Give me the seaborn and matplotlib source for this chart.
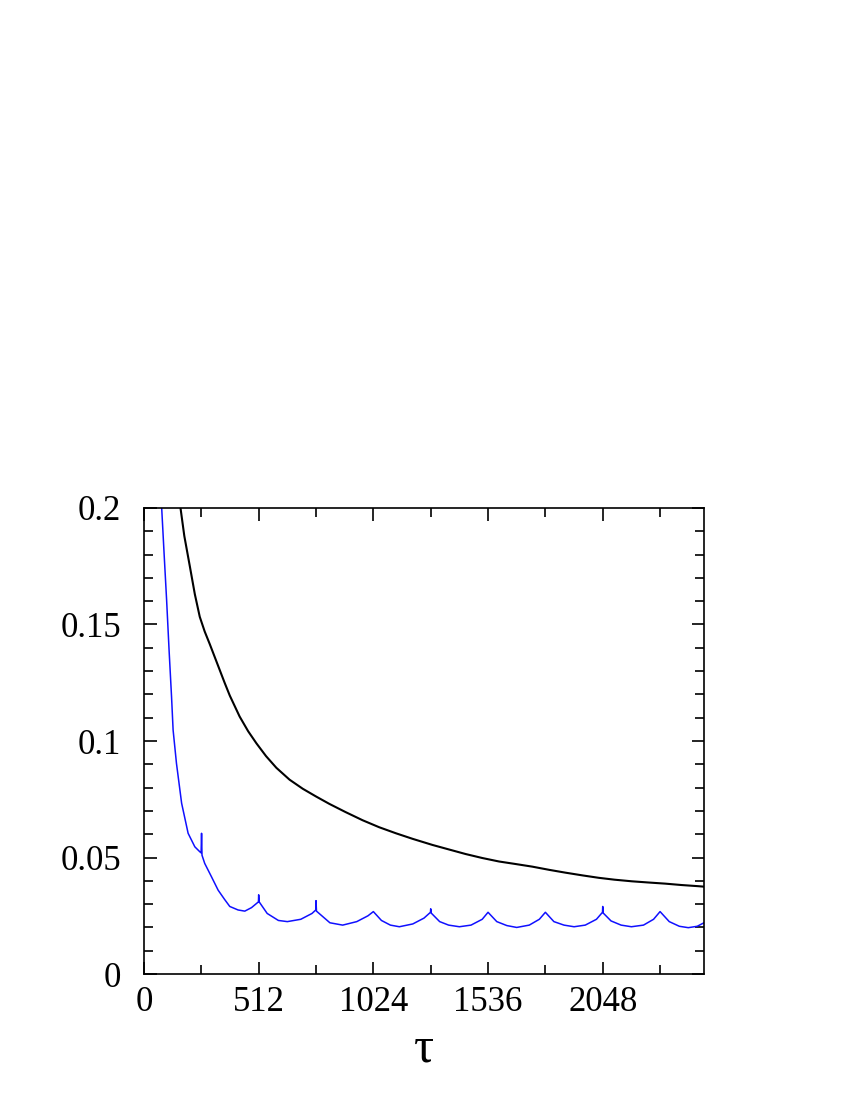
import matplotlib
matplotlib.use('Agg')
import matplotlib.pyplot as plt
import seaborn as sns
import pandas as pd
from matplotlib.ticker import MultipleLocator

# black curve
tau_black = [163, 180, 205, 227, 249, 271, 294, 316, 338, 360, 383, 427, 465, 502, 545, 591,
             650, 709, 768, 828, 900, 976, 1050, 1125, 1200, 1288, 1360, 1436, 1510, 1585,
             1660, 1733, 1810, 1882, 1960, 2030, 2100, 2178, 2250, 2327, 2400, 2475, 2500]
val_black = [0.200, 0.188, 0.1748, 0.163, 0.1533, 0.147, 0.1415, 0.136, 0.1305, 0.125, 0.1195,
             0.1105, 0.1042, 0.0990, 0.0935, 0.0885, 0.0834, 0.0795, 0.0762, 0.0730, 0.0695,
             0.066, 0.063, 0.0604, 0.058, 0.0554, 0.0535, 0.0515, 0.0498, 0.0483, 0.0472,
             0.0461, 0.0447, 0.0435, 0.0423, 0.0413, 0.0405, 0.0398, 0.0393, 0.0388, 0.0382,
             0.0377, 0.0375]

# blue curve
tau_blue = [79, 90, 101, 112, 123, 130, 145, 168, 197, 227, 249, 255, 257, 259, 271, 301, 331,
            360, 383, 420, 450, 480, 505, 511, 512, 514, 550, 600, 640, 700, 750, 767, 768,
            770, 800, 830, 887, 950, 1000, 1024, 1060, 1100, 1140, 1200, 1250, 1279, 1280,
            1282, 1320, 1360, 1408, 1460, 1510, 1536, 1575, 1620, 1664, 1720, 1765, 1792,
            1830, 1875, 1920, 1970, 2020, 2047, 2048, 2050, 2085, 2130, 2176, 2230, 2275,
            2304, 2345, 2390, 2430, 2470, 2500]
val_blue = [0.200, 0.180, 0.1605, 0.139, 0.119, 0.1047, 0.0904, 0.0733, 0.0604, 0.0546, 0.0525,
            0.052, 0.0604, 0.051, 0.0475, 0.0418, 0.036, 0.032, 0.029, 0.0275, 0.027, 0.0285,
            0.0305, 0.031, 0.034, 0.031, 0.026, 0.023, 0.0225, 0.0235, 0.026, 0.0275, 0.0315,
            0.027, 0.0245, 0.022, 0.021, 0.0225, 0.025, 0.0268, 0.023, 0.021, 0.0203, 0.0215,
            0.024, 0.0265, 0.028, 0.0262, 0.0225, 0.021, 0.0203, 0.021, 0.0235, 0.0265,
            0.0225, 0.0208, 0.020, 0.021, 0.0235, 0.0265, 0.0225, 0.021, 0.0203, 0.021,
            0.0235, 0.0265, 0.029, 0.0262, 0.0228, 0.021, 0.0203, 0.021, 0.0235, 0.0268,
            0.0225, 0.0205, 0.0199, 0.0205, 0.022]

x_ticks = [0, 512, 1024, 1536, 2048]
y_ticks = [0, 0.05, 0.1, 0.15, 0.2]
y_labels = ['0', '0.05', '0.1', '0.15', '0.2']

sns.set_style('ticks')
plt.rcParams['font.family'] = ['Liberation Serif', 'DejaVu Serif']
plt.rcParams['text.color'] = 'black'
plt.rcParams['axes.labelcolor'] = 'black'
plt.rcParams['axes.edgecolor'] = 'black'
plt.rcParams['xtick.color'] = 'black'
plt.rcParams['ytick.color'] = 'black'

df_black = pd.DataFrame({'tau': tau_black, 'val': val_black})
df_blue = pd.DataFrame({'tau': tau_blue, 'val': val_blue})

fig = plt.figure(figsize=(8.5, 11), dpi=100)
ax = fig.add_axes([0.1694, 0.1145, 0.6588, 0.4237])

sns.lineplot(data=df_black, x='tau', y='val', color='black', linewidth=1.5, ax=ax)
sns.lineplot(data=df_blue, x='tau', y='val', color='#1010ff', linewidth=1.1, ax=ax)

ax.set_xlim(0, 2500)
ax.set_ylim(0, 0.2)
ax.set_xticks(x_ticks)
ax.set_xticklabels([str(t) for t in x_ticks])
ax.xaxis.set_minor_locator(MultipleLocator(256))
ax.set_yticks(y_ticks)
ax.set_yticklabels(y_labels)
ax.yaxis.set_minor_locator(MultipleLocator(0.01))

ax.tick_params(which='both', direction='in', top=True, right=True, width=1.2, labelsize=25)
ax.tick_params(which='major', length=9)
ax.tick_params(which='minor', length=6.5)
ax.tick_params(axis='y', pad=16.5)
ax.tick_params(axis='x', pad=8.5)
for s in ax.spines.values():
    s.set_linewidth(1.2)

ax.set_xlabel('τ', fontsize=36, labelpad=5)
ax.set_ylabel('')

fig.savefig('out.png', dpi=100)
